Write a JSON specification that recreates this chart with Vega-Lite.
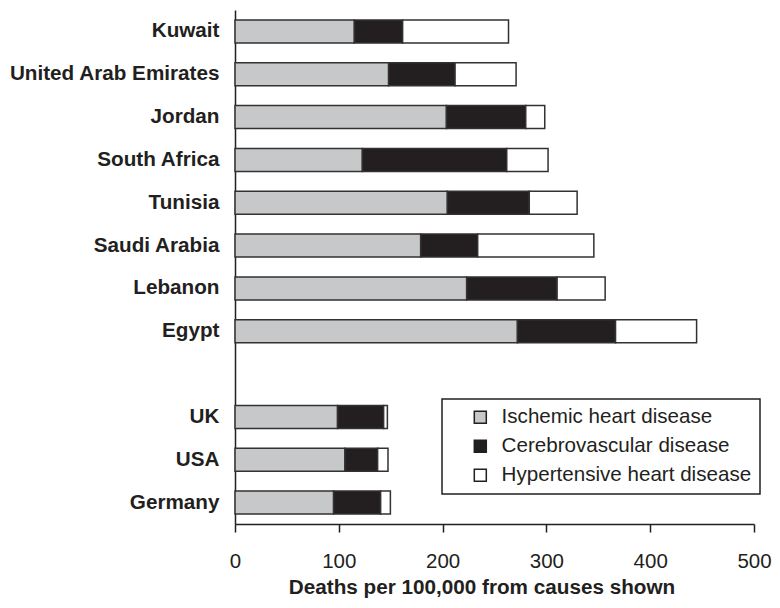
{
  "$schema": "https://vega.github.io/schema/vega-lite/v6.json",
  "autosize": {"type": "none"},
  "padding": {"left": 235, "top": 10, "right": 26, "bottom": 84},
  "width": 519,
  "height": 514,
  "background": "white",
  "config": {"view": {"stroke": null}, "font": "Liberation Sans"},
  "data": {"values": [
    {"country": "Kuwait", "cause": "Ischemic heart disease", "deaths": 115.0},
    {"country": "Kuwait", "cause": "Cerebrovascular disease", "deaths": 46.5},
    {"country": "Kuwait", "cause": "Hypertensive heart disease", "deaths": 102.0},
    {"country": "United Arab Emirates", "cause": "Ischemic heart disease", "deaths": 148.0},
    {"country": "United Arab Emirates", "cause": "Cerebrovascular disease", "deaths": 64.0},
    {"country": "United Arab Emirates", "cause": "Hypertensive heart disease", "deaths": 58.8},
    {"country": "Jordan", "cause": "Ischemic heart disease", "deaths": 203.7},
    {"country": "Jordan", "cause": "Cerebrovascular disease", "deaths": 76.4},
    {"country": "Jordan", "cause": "Hypertensive heart disease", "deaths": 18.3},
    {"country": "South Africa", "cause": "Ischemic heart disease", "deaths": 122.7},
    {"country": "South Africa", "cause": "Cerebrovascular disease", "deaths": 139.1},
    {"country": "South Africa", "cause": "Hypertensive heart disease", "deaths": 39.8},
    {"country": "Tunisia", "cause": "Ischemic heart disease", "deaths": 204.6},
    {"country": "Tunisia", "cause": "Cerebrovascular disease", "deaths": 78.9},
    {"country": "Tunisia", "cause": "Hypertensive heart disease", "deaths": 46.1},
    {"country": "Saudi Arabia", "cause": "Ischemic heart disease", "deaths": 178.9},
    {"country": "Saudi Arabia", "cause": "Cerebrovascular disease", "deaths": 54.9},
    {"country": "Saudi Arabia", "cause": "Hypertensive heart disease", "deaths": 111.9},
    {"country": "Lebanon", "cause": "Ischemic heart disease", "deaths": 223.2},
    {"country": "Lebanon", "cause": "Cerebrovascular disease", "deaths": 87.1},
    {"country": "Lebanon", "cause": "Hypertensive heart disease", "deaths": 46.3},
    {"country": "Egypt", "cause": "Ischemic heart disease", "deaths": 272.1},
    {"country": "Egypt", "cause": "Cerebrovascular disease", "deaths": 94.5},
    {"country": "Egypt", "cause": "Hypertensive heart disease", "deaths": 78.1},
    {"country": "UK", "cause": "Ischemic heart disease", "deaths": 98.8},
    {"country": "UK", "cause": "Cerebrovascular disease", "deaths": 44.4},
    {"country": "UK", "cause": "Hypertensive heart disease", "deaths": 3.6},
    {"country": "USA", "cause": "Ischemic heart disease", "deaths": 105.9},
    {"country": "USA", "cause": "Cerebrovascular disease", "deaths": 31.5},
    {"country": "USA", "cause": "Hypertensive heart disease", "deaths": 10.0},
    {"country": "Germany", "cause": "Ischemic heart disease", "deaths": 95.0},
    {"country": "Germany", "cause": "Cerebrovascular disease", "deaths": 45.3},
    {"country": "Germany", "cause": "Hypertensive heart disease", "deaths": 9.4}
  ]},
  "transform": [
    {"calculate": "indexof(['Ischemic heart disease','Cerebrovascular disease','Hypertensive heart disease'], datum.cause)", "as": "causeOrder"}
  ],
  "mark": {"type": "bar", "stroke": "#333132", "strokeWidth": 1.5},
  "encoding": {
    "y": {
      "field": "country", "type": "nominal",
      "scale": {
        "domain": ["Kuwait", "United Arab Emirates", "Jordan", "South Africa", "Tunisia", "Saudi Arabia", "Lebanon", "Egypt", " ", "UK", "USA", "Germany"],
        "paddingInner": 0.464, "paddingOuter": 0.232
      },
      "axis": {
        "title": null, "ticks": false, "domain": true,
        "domainColor": "#231f20", "domainWidth": 1.5,
        "labelFont": "Liberation Sans", "labelFontWeight": "bold", "labelFontSize": 20.7,
        "labelColor": "#231f20", "labelPadding": 16, "labelLimit": 400
      }
    },
    "x": {
      "field": "deaths", "type": "quantitative", "stack": "zero",
      "scale": {"domain": [0, 500], "nice": false},
      "axis": {
        "title": "Deaths per 100,000 from causes shown",
        "values": [0, 100, 200, 300, 400, 500],
        "grid": false,
        "domainColor": "#231f20", "domainWidth": 1.5,
        "tickColor": "#231f20", "tickWidth": 1.5, "tickSize": 8,
        "labelFont": "Liberation Sans", "labelFontSize": 20.5, "labelColor": "#231f20",
        "labelPadding": 19, "labelFlush": false,
        "titleFont": "Liberation Sans", "titleFontWeight": "bold", "titleFontSize": 20.7,
        "titleColor": "#231f20", "titlePadding": 6, "titleX": 246.5
      }
    },
    "color": {
      "field": "cause", "type": "nominal",
      "scale": {
        "domain": ["Ischemic heart disease", "Cerebrovascular disease", "Hypertensive heart disease"],
        "range": ["#c7c8ca", "#231f20", "#ffffff"]
      },
      "legend": {
        "title": null, "orient": "none", "legendX": 207, "legendY": 389,
        "symbolType": "square", "symbolSize": 144,
        "symbolStrokeColor": "#231f20", "symbolStrokeWidth": 1.5, "symbolOpacity": 1,
        "labelFont": "Liberation Sans", "labelFontSize": 20.6, "labelColor": "#231f20",
        "labelLimit": 400, "labelOffset": 11, "symbolOffset": 20,
        "rowPadding": 8, "padding": 8,
        "strokeColor": "#231f20",
        "encode": {"legend": {"update": {"strokeWidth": {"value": 1.5}}}}
      }
    },
    "order": {"field": "causeOrder", "type": "quantitative"}
  }
}
